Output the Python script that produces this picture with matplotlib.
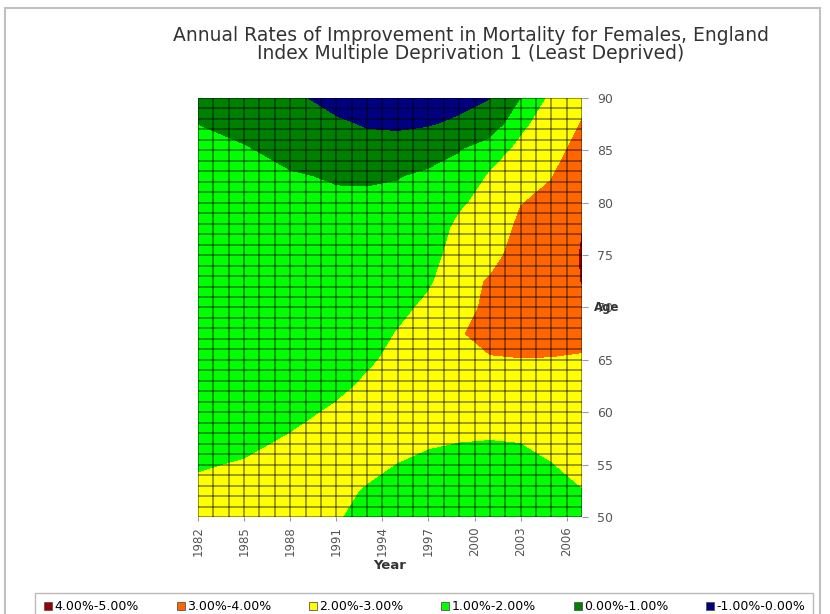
import numpy as np
import matplotlib.pyplot as plt
from matplotlib.lines import Line2D
from matplotlib.patches import Rectangle

plt.rcParams['font.family'] = ['DejaVu Sans']

# grid of the surface: years across, ages up
years = [1982, 1985, 1988, 1991, 1993, 1995, 1997, 1999, 2001, 2003, 2005, 2007]
ages = [50, 52.5, 55, 57.5, 60, 62.5, 65, 67.5, 70, 72.5, 75, 77.5, 80, 82.5, 85, 87.5, 90]

# annual improvement rate (%) by age, one list per year
rate_1982 = [2.4, 2.3, 1.86, 1.8, 1.7, 1.6, 1.6, 1.5, 1.5, 1.5, 1.5, 1.4, 1.4, 1.3, 1.2, 0.99, 0.6]
rate_1985 = [2.6, 2.4, 2.1, 1.6, 1.6, 1.5, 1.5, 1.5, 1.5, 1.4, 1.4, 1.4, 1.3, 1.2, 1.1, 0.6, 0.4]
rate_1988 = [2.7, 2.6, 2.4, 2.1, 1.6, 1.5, 1.5, 1.5, 1.4, 1.4, 1.4, 1.3, 1.2, 1.1, 0.6, 0.45, 0.2]
rate_1991 = [2.1, 2.4, 2.6, 2.4, 2.2, 1.7, 1.6, 1.5, 1.5, 1.4, 1.4, 1.3, 1.2, 0.89, 0.6, 0.15, -0.39]
rate_1993 = [1.6, 1.85, 2.39, 2.6, 2.4, 2.2, 1.815, 1.6, 1.5, 1.4, 1.4, 1.3, 1.15, 0.9, 0.4, -0.1, -0.6]
rate_1995 = [1.5, 1.7, 1.95, 2.575, 2.6, 2.5, 2.3, 2.05, 1.74, 1.5, 1.4, 1.35, 1.15, 0.97, 0.4, -0.156, -0.7]
rate_1997 = [1.4, 1.6, 1.8, 2.13, 2.6, 2.7, 2.6, 2.4, 2.2, 1.87, 1.6, 1.5, 1.3, 1.1, 0.74, -0.1, -0.5]
rate_1999 = [1.3, 1.4, 1.6, 2.065, 2.5, 2.7, 2.85, 2.9, 2.75, 2.6, 2.45, 2.2, 1.87, 1.3, 0.96, 0.2, -0.425]
rate_2001 = [1.2, 1.3, 1.5, 2.02, 2.5, 2.75, 2.9, 3.4, 3.15, 3.1, 2.6, 2.45, 2.3, 2.1, 1.6, 0.236, -0.02]
rate_2003 = [1.4, 1.5, 1.6, 2.076, 2.5, 2.8, 2.95, 3.575, 3.7, 3.6, 3.5, 3.2, 2.97, 2.6, 2.2, 1.815, 0.95]
rate_2005 = [1.6, 1.8, 1.95, 2.37, 2.6, 2.8, 2.95, 3.37, 3.7, 3.8, 3.8, 3.6, 3.2, 2.97, 2.6, 2.4, 2.2]
rate_2007 = [1.8, 1.95, 2.37, 2.6, 2.7, 2.8, 2.9, 3.257, 3.9, 4.01, 4.02, 3.995, 3.8, 3.6, 3.4, 3.05, 2.8]

levels = [-1, 0, 1, 2, 3, 4, 5]
band_colors = ['#000080', '#008000', '#00ff00', '#ffff00', '#ff6600', '#990000']
band_labels = ['-1.00%-0.00%', '0.00%-1.00%', '1.00%-2.00%', '2.00%-3.00%', '3.00%-4.00%', '4.00%-5.00%']

z = np.column_stack([rate_1982, rate_1985, rate_1988, rate_1991, rate_1993, rate_1995,
                     rate_1997, rate_1999, rate_2001, rate_2003, rate_2005, rate_2007])

fig = plt.figure(figsize=(8.3, 6.14), dpi=100)
ax = fig.add_axes([0.2386, 0.158, 0.4627, 0.6824])

ax.contourf(years, ages, z, levels=levels, colors=band_colors)

ax.set_xlim(1982, 2007)
ax.set_ylim(50, 90)

# fine grid: every year and every age
ax.set_xticks(range(1982, 2007, 3))
ax.set_xticks(range(1982, 2008), minor=True)
ax.set_yticks(range(50, 91, 5))
ax.set_yticks(range(50, 91), minor=True)
ax.set_axisbelow(False)
ax.grid(which='both', color='black', alpha=0.5, linewidth=1.1)
ax.tick_params(which='minor', length=0)

ax.yaxis.tick_right()
ax.tick_params(axis='x', labelrotation=90, labelsize=8.5, labelcolor='#555555',
               color='#999999', length=3)
ax.tick_params(axis='y', labelsize=9, labelcolor='#555555', color='#999999',
               length=4, pad=7)
for s in ax.spines.values():
    s.set_visible(False)

ax.set_xlabel('Year', fontsize=9.5, fontweight='bold', color='#333333', labelpad=2)
ax.yaxis.set_label_position('right')
ax.set_ylabel('Age', fontsize=8.5, fontweight='bold', color='#333333', rotation=0,
              ha='center', va='center')
ax.yaxis.set_label_coords(1.065, 0.5)

fig.text(0.5675, 0.9275,
         'Annual Rates of Improvement in Mortality for Females, England\n'
         'Index Multiple Deprivation 1 (Least Deprived)',
         ha='center', va='center', fontsize=13.5, color='#333333', linespacing=0.9)

# legend in reverse band order, as in the original
handles = [Line2D([], [], marker='s', linestyle='none', markersize=5.5,
                  markerfacecolor=c, markeredgecolor='#555555', markeredgewidth=0.6)
           for c in band_colors[::-1]]
fig.legend(handles, band_labels[::-1], ncol=6, loc='upper left',
           bbox_to_anchor=(35 / 830, 1 - 593 / 614), fontsize=9,
           frameon=True, fancybox=False, edgecolor='#aaaaaa', handletextpad=0.05,
           columnspacing=2.9, handlelength=0.9, borderpad=0.6, borderaxespad=0)

# chart area border
fig.patches.append(Rectangle((5 / 830, -0.05), 815 / 830, 1 - 8 / 614 + 0.05,
                             transform=fig.transFigure, fill=False,
                             edgecolor='#c0c0c0', linewidth=1.5))

fig.savefig('out.png', dpi=100)
plt.close(fig)
